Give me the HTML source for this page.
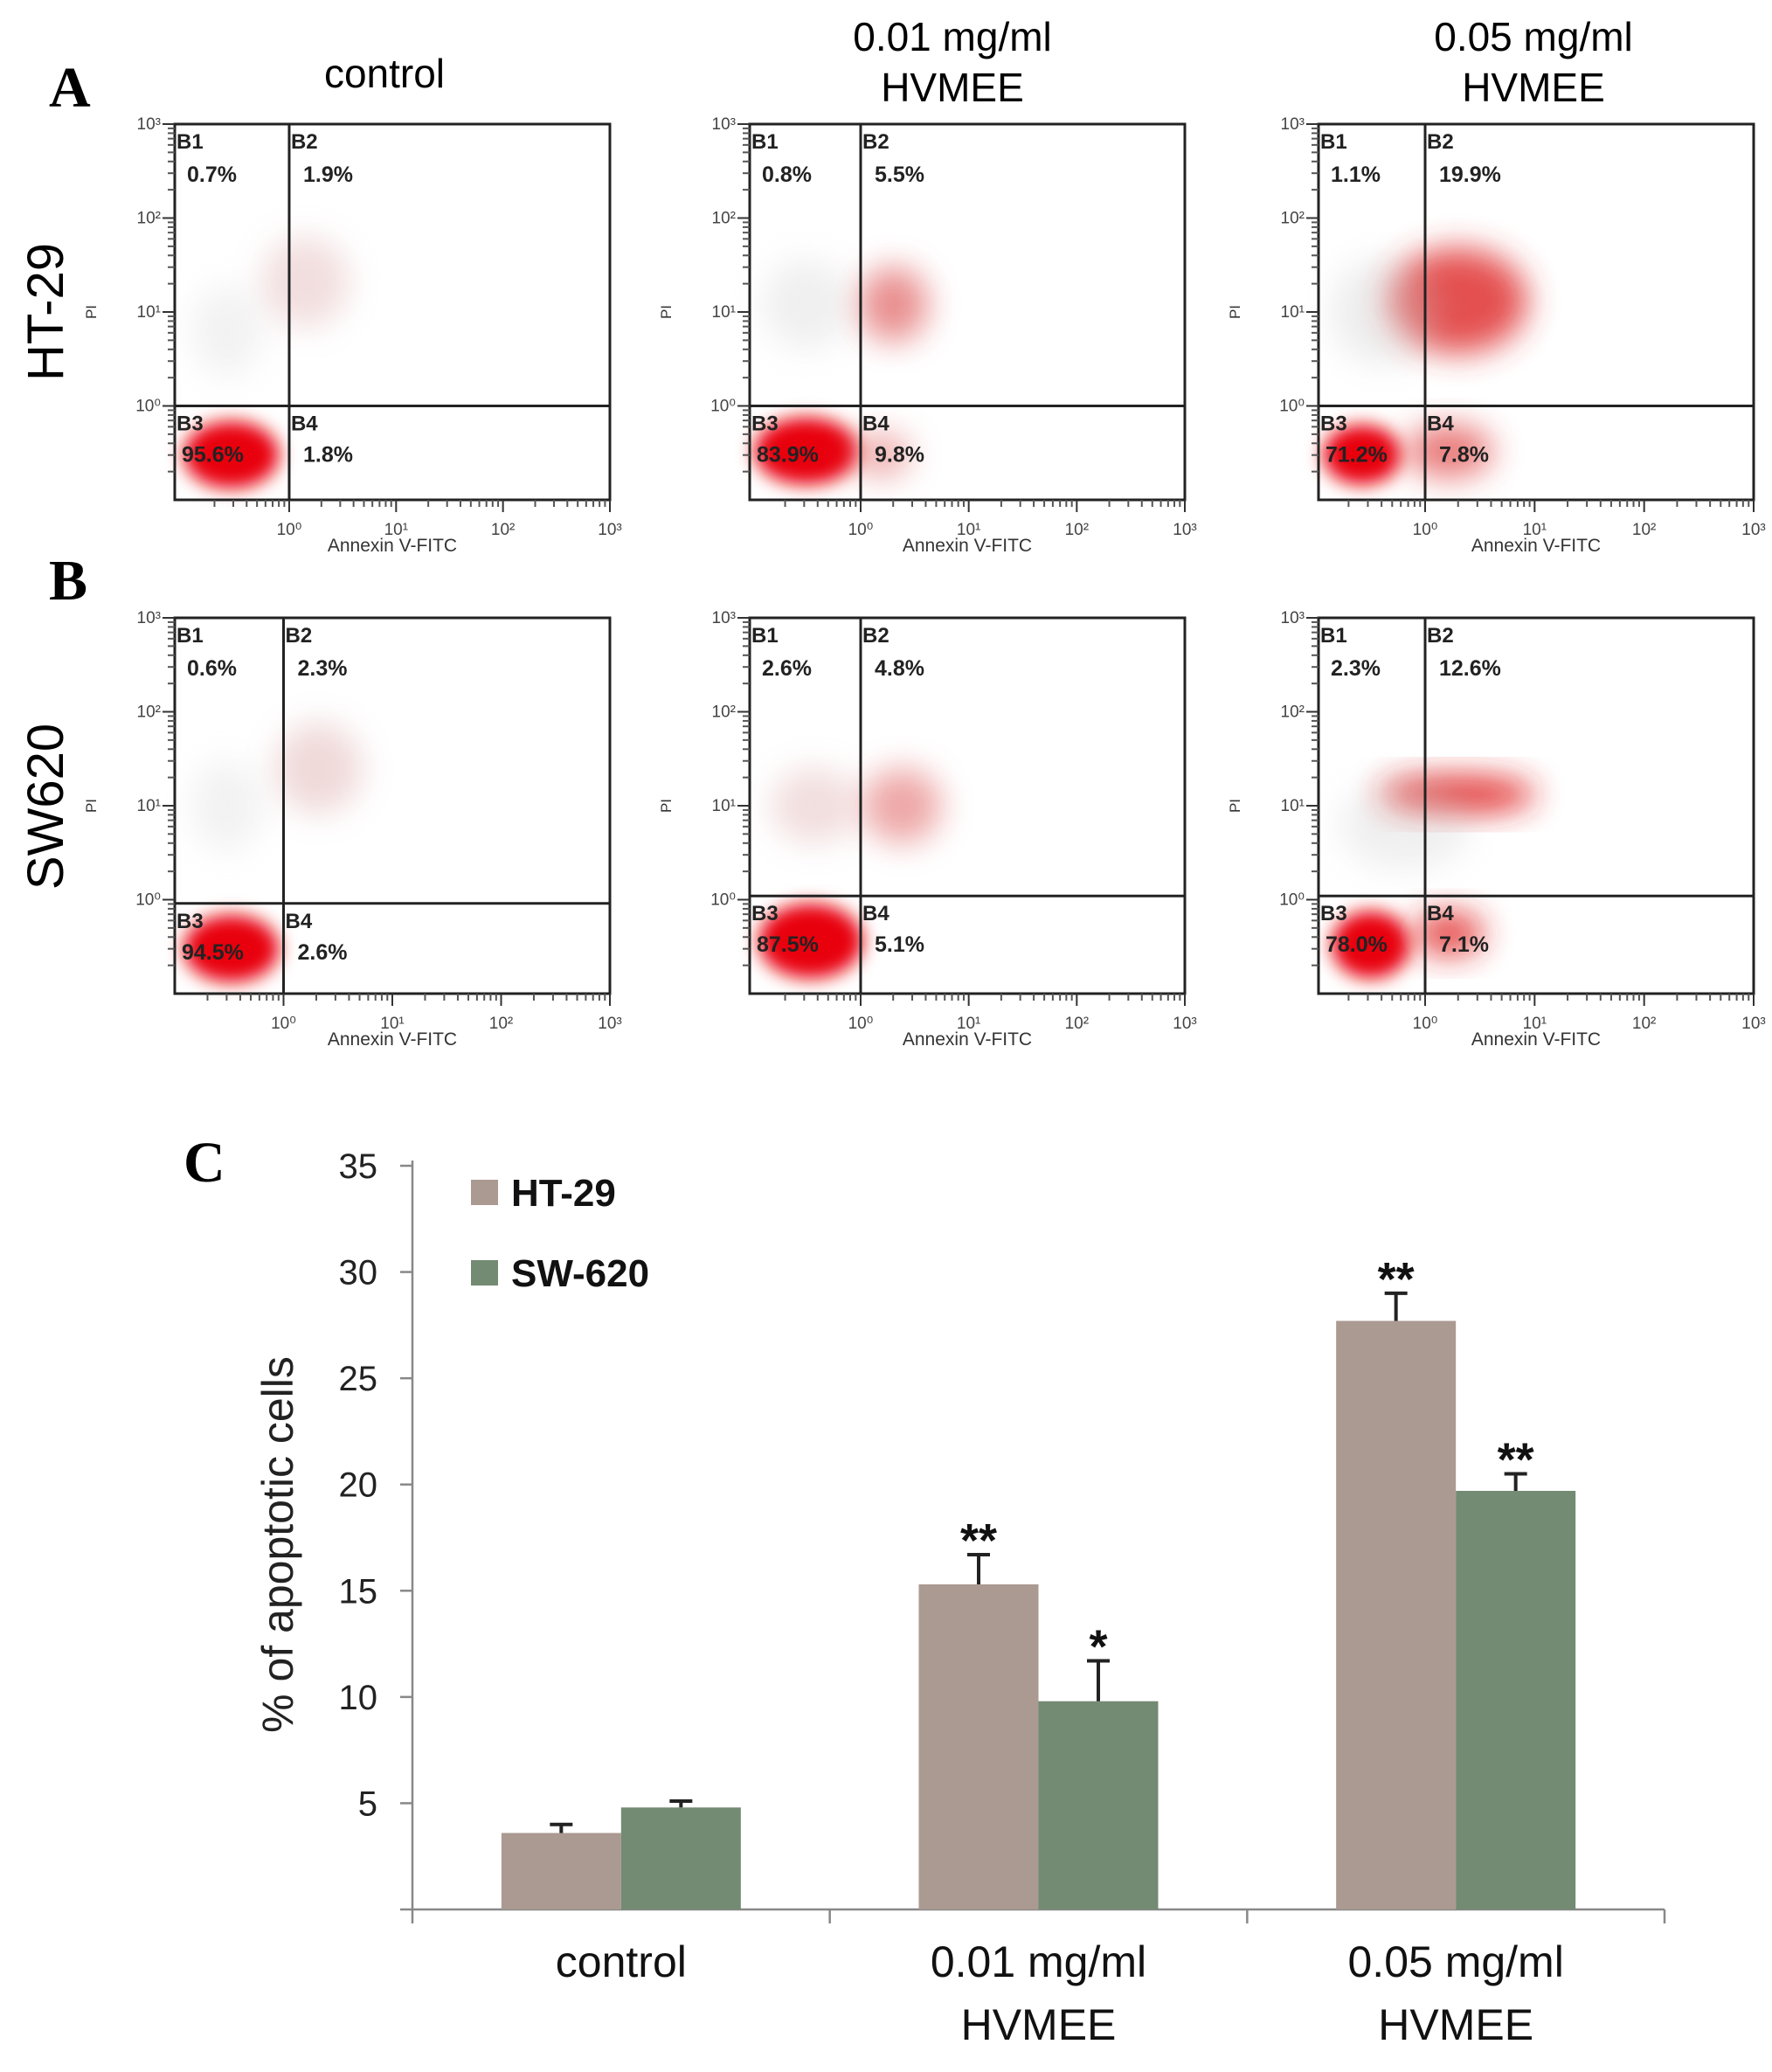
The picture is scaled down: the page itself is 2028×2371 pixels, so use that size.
<!DOCTYPE html>
<html><head><meta charset="utf-8"><style>
html,body{margin:0;padding:0;background:#fff;}
svg{display:block;font-family:"Liberation Sans",Arial,sans-serif;}
</style></head><body>
<svg id="fig" width="2028" height="2371" viewBox="0 0 2028 2371" xmlns="http://www.w3.org/2000/svg">
<defs>
<filter id="blur" x="-50%" y="-50%" width="200%" height="200%"><feGaussianBlur stdDeviation="10"/></filter>
<filter id="blur2" x="-50%" y="-50%" width="200%" height="200%"><feGaussianBlur stdDeviation="18"/></filter>
</defs>
<g id="flow"></g>
<g id="bars"></g>
</svg>
<script>
// ---------- Flow cytometry data ----------
const flowRows = ["HT-29", "SW620"];
const flowCols = ["control", "0.01 mg/ml HVMEE", "0.05 mg/ml HVMEE"];
const pctB1 = [["0.7%","0.8%","1.1%"],["0.6%","2.6%","2.3%"]];
const pctB2 = [["1.9%","5.5%","19.9%"],["2.3%","4.8%","12.6%"]];
const pctB3 = [["95.6%","83.9%","71.2%"],["94.5%","87.5%","78.0%"]];
const pctB4 = [["1.8%","9.8%","7.8%"],["2.6%","5.1%","7.1%"]];
const quadX = [[0.263,0.255,0.245],[0.25,0.255,0.245]];
const quadY = [[0.75,0.75,0.75],[0.76,0.74,0.74]];
// clusters: [cx, cy, rx, ry, opacity, color] in box fractions
const clusters = [
 [[[0.13,0.88,0.11,0.09,1,"#e8000a"],[0.3,0.42,0.1,0.12,0.35,"#d9a0a0"],[0.12,0.55,0.08,0.12,0.25,"#cccccc"]],
  [[0.13,0.87,0.12,0.09,1,"#e8000a"],[0.33,0.48,0.08,0.1,0.7,"#e06060"],[0.13,0.48,0.1,0.12,0.3,"#cccccc"],[0.3,0.88,0.07,0.06,0.5,"#e06060"]],
  [[0.1,0.88,0.09,0.08,1,"#e8000a"],[0.32,0.47,0.16,0.14,0.85,"#e03030"],[0.15,0.5,0.12,0.14,0.35,"#cccccc"],[0.3,0.87,0.1,0.07,0.7,"#e04040"]]],
 [[[0.13,0.88,0.11,0.09,1,"#e8000a"],[0.33,0.4,0.1,0.12,0.4,"#d9a0a0"],[0.12,0.5,0.08,0.12,0.25,"#cccccc"]],
  [[0.14,0.86,0.12,0.1,1,"#e8000a"],[0.35,0.5,0.09,0.1,0.55,"#e06060"],[0.15,0.5,0.1,0.1,0.35,"#d9a0a0"]],
  [[0.12,0.87,0.09,0.09,1,"#e8000a"],[0.32,0.47,0.18,0.05,0.9,"#e02020"],[0.3,0.84,0.08,0.06,0.8,"#e02020"],[0.2,0.55,0.15,0.12,0.3,"#cccccc"]]]
];
const boxX = [200, 858, 1509];
const boxW = 498;
const boxY = [142, 707];
const boxH = 430;

const NS="http://www.w3.org/2000/svg";
function mk(tag, attrs, parent, text){
  const e=document.createElementNS(NS,tag);
  for(const k in attrs) e.setAttribute(k,attrs[k]);
  if(text!==undefined) e.textContent=text;
  parent.appendChild(e); return e;
}
const flow=document.getElementById('flow');

let t=mk('text',{x:56,y:122,'font-family':'Liberation Serif,serif','font-weight':'bold','font-size':66},flow,'A');


t=mk('text',{x:56,y:686,'font-family':'Liberation Serif,serif','font-weight':'bold','font-size':66},flow,'B');


const titleLines=[["control"],["0.01 mg/ml","HVMEE"],["0.05 mg/ml","HVMEE"]];
const titleCX=[440,1090,1755];
titleLines.forEach((lines,i)=>{
  lines.forEach((ln,j)=>{
    const y = lines.length===1 ? 100 : 58+j*58;
    const tt=mk('text',{x:titleCX[i],y:y,'font-size':46,'text-anchor':'middle'},flow,ln);
    
    
  });
});
const rowLabelCY=[357,923];
flowRows.forEach((r,i)=>{
  const tt=mk('text',{x:0,y:0,'font-size':58,'text-anchor':'middle',transform:`translate(72,${rowLabelCY[i]}) rotate(-90)`},flow,r);
  
  
});

const sup=["10⁰","10¹","10²","10³"];
for(let r=0;r<2;r++){
 for(let c=0;c<3;c++){
  const x0=boxX[c], y0=boxY[r];
  const g=mk('g',{},flow);
  
  
  clusters[r][c].forEach((cl,k)=>{
    const e=mk('ellipse',{cx:x0+cl[0]*boxW,cy:y0+cl[1]*boxH,rx:cl[2]*boxW,ry:cl[3]*boxH,fill:cl[5],opacity:cl[4],filter:k===0?'url(#blur)':'url(#blur2)'},g);
    
    
  });
  const b=mk('rect',{x:x0,y:y0,width:boxW,height:boxH,fill:'none',stroke:'#222','stroke-width':3},g);
  
  
  const qx=x0+quadX[r][c]*boxW, qy=y0+quadY[r][c]*boxH;
  let l=mk('line',{x1:qx,y1:y0,x2:qx,y2:y0+boxH,stroke:'#222','stroke-width':3},g);
  
  
  l=mk('line',{x1:x0,y1:qy,x2:x0+boxW,y2:qy,stroke:'#222','stroke-width':3},g);
  
  
  const lab=[["B1",x0+2,y0+28,pctB1[r][c],x0+14,y0+66],["B2",qx+2,y0+28,pctB2[r][c],qx+16,y0+66],
             ["B3",x0+2,qy+28,pctB3[r][c],x0+8,qy+64],["B4",qx+2,qy+28,pctB4[r][c],qx+16,qy+64]];
  lab.forEach(q=>{
    let a=mk('text',{x:q[1],y:q[2],'font-size':24,'font-weight':'bold',fill:'#222'},g,q[0]);
    
    
    a=mk('text',{x:q[4],y:q[5],'font-size':25,'font-weight':'bold',fill:'#222'},g,q[3]);
    
    
  });
  for(let d=0;d<4;d++){
    const yy=y0+boxH*(0.75-0.25*d);
    let tk=mk('line',{x1:x0-14,y1:yy,x2:x0,y2:yy,stroke:'#333','stroke-width':2},g);
    
    
    tk=mk('text',{x:x0-16,y:yy+6,'font-size':19,'text-anchor':'end',fill:'#444'},g,sup[d]);
    
    
    for(let m=2;m<10;m++){
      const my=yy-boxH*0.25*Math.log10(m);
      if(my<y0-1) continue;
      const mt=mk('line',{x1:x0-8,y1:my,x2:x0,y2:my,stroke:'#555','stroke-width':2},g);
      
      
    }
  }
  for(let m=2;m<10;m++){
    const my=y0+boxH*0.75+boxH*0.25*(1-Math.log10(m));
    const mt=mk('line',{x1:x0-8,y1:my,x2:x0,y2:my,stroke:'#555','stroke-width':2},g);
    
    
  }
  const xs0=quadX[r][c];
  const dec=(1-xs0)/3;
  for(let d=0;d<4;d++){
    const xx=x0+boxW*(xs0+dec*d);
    let tk=mk('line',{x1:xx,y1:y0+boxH,x2:xx,y2:y0+boxH+14,stroke:'#333','stroke-width':2},g);
    
    
    tk=mk('text',{x:xx,y:y0+boxH+40,'font-size':19,'text-anchor':'middle',fill:'#444'},g,sup[d]);
    
    
    for(let m=2;m<10;m++){
      const mx=xx-boxW*dec*(1-Math.log10(m));
      if(mx<x0) continue;
      const mt=mk('line',{x1:mx,y1:y0+boxH,x2:mx,y2:y0+boxH+8,stroke:'#555','stroke-width':2},g);
      
      
    }
  }
  let xl=mk('text',{x:x0+boxW*0.5,y:y0+boxH+59,'font-size':21,'text-anchor':'middle',fill:'#333'},g,'Annexin V-FITC');
  
  
  xl=mk('text',{x:0,y:0,'font-size':17,'text-anchor':'middle',fill:'#333',transform:`translate(${x0-90},${y0+boxH*0.5}) rotate(-90)`},g,'PI');
  
  
 }
}

// ---------- Bar chart data ----------
const categories = [["control"],["0.01 mg/ml","HVMEE"],["0.05 mg/ml","HVMEE"]];
const seriesNames = ["HT-29","SW-620"];
const ht29 = [3.6, 15.3, 27.7];
const sw620 = [4.8, 9.8, 19.7];
const ht29Err = [0.4, 1.4, 1.3];
const sw620Err = [0.3, 1.9, 0.8];
const ht29Sig = ["", "**", "**"];
const sw620Sig = ["", "*", "**"];
const yTicks = [5,10,15,20,25,30,35];

const bars=document.getElementById('bars');
const axX=472, axRight=1905, baseY=2185, topY=1334, yMax=35;
function yS(v){return baseY-(baseY-topY)*v/yMax;}
const groupW=(axRight-axX)/categories.length;
const barW=137;
function gCenter(i){return axX+groupW*(i+0.5);}
const colors=["#ab9a92","#738b73"];

let e=mk('text',{x:210,y:1352,'font-family':'Liberation Serif,serif','font-weight':'bold','font-size':66},bars,'C');



e=mk('line',{x1:axX,y1:topY-6,x2:axX,y2:baseY+16,stroke:'#888','stroke-width':2.5},bars);


e=mk('line',{x1:axX-14,y1:baseY,x2:axRight,y2:baseY,stroke:'#888','stroke-width':2.5},bars);


for(let i=1;i<=categories.length;i++){
  const xx=axX+groupW*i;
  e=mk('line',{x1:xx,y1:baseY,x2:xx,y2:baseY+16,stroke:'#888','stroke-width':2.5},bars);
  
  
}
yTicks.forEach(v=>{
  const yy=yS(v);
  e=mk('line',{x1:axX-14,y1:yy,x2:axX,y2:yy,stroke:'#888','stroke-width':2.5},bars);
  
  
  e=mk('text',{x:axX-40,y:yy+14,'font-size':40,'text-anchor':'end',fill:'#222'},bars,String(v));
  
  
});
e=mk('text',{x:0,y:0,'font-size':50,'text-anchor':'middle',fill:'#222',transform:`translate(335,${(topY+baseY)/2+8}) rotate(-90)`},bars,'% of apoptotic cells');



categories.forEach((lines,i)=>{
  lines.forEach((ln,j)=>{
    const tt=mk('text',{x:gCenter(i),y:2262+j*72,'font-size':50,'text-anchor':'middle',fill:'#111'},bars,ln);
    
    
  });
});

const allVals=[ht29,sw620], allErr=[ht29Err,sw620Err], allSig=[ht29Sig,sw620Sig];
for(let s=0;s<2;s++){
  for(let i=0;i<categories.length;i++){
    const v=allVals[s][i], er=allErr[s][i];
    const x=gCenter(i)-barW+s*barW;
    const r=mk('rect',{x:x,y:yS(v),width:barW,height:baseY-yS(v),fill:colors[s]},bars);
    
    
    const cx=x+barW/2;
    const el=mk('path',{d:`M${cx},${yS(v)} V${yS(v+er)} M${cx-13},${yS(v+er)} H${cx+13}`,stroke:'#222','stroke-width':4,fill:'none'},bars);
    
    
    if(allSig[s][i]){
      const st=mk('text',{x:cx,y:yS(v+er)+2,'font-size':54,'font-weight':'bold','text-anchor':'middle',fill:'#111'},bars,allSig[s][i]);
      
      
    }
  }
}
seriesNames.forEach((n,s)=>{
  const ly=1350+s*92;
  let r=mk('rect',{x:539,y:ly,width:31,height:29,fill:colors[s]},bars);
  
  
  r=mk('text',{x:585,y:ly+30,'font-size':44,'font-weight':'bold',fill:'#111'},bars,n);
  
  
});
</script>
</body></html>
